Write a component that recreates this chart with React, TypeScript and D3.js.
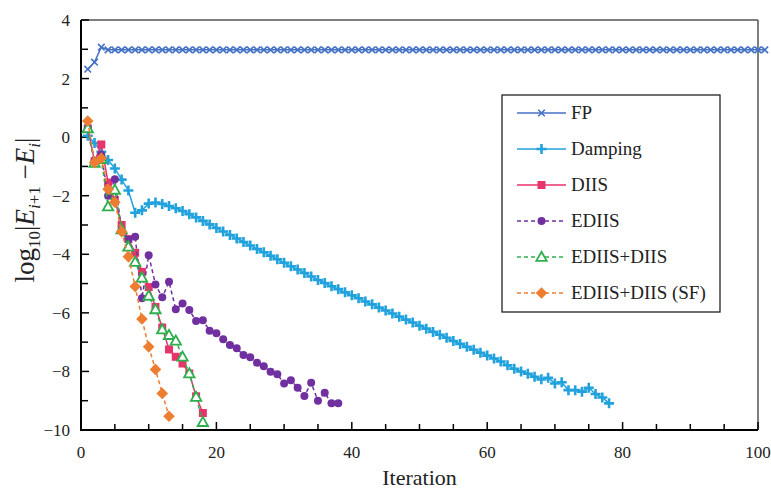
import React from "react";
import * as d3 from "d3";

// ---- data (iteration = index + 1) ----
const fpValues = [2.32, 2.56, 3.07,
  2.98, 2.98, 2.98, 2.98, 2.98, 2.98, 2.98, 2.98, 2.98, 2.98, 2.98, 2.98, 2.98, 2.98, 2.98, 2.98, 2.98,
  2.98, 2.98, 2.98, 2.98, 2.98, 2.98, 2.98, 2.98, 2.98, 2.98, 2.98, 2.98, 2.98, 2.98, 2.98, 2.98, 2.98,
  2.98, 2.98, 2.98, 2.98, 2.98, 2.98, 2.98, 2.98, 2.98, 2.98, 2.98, 2.98, 2.98, 2.98, 2.98, 2.98, 2.98,
  2.98, 2.98, 2.98, 2.98, 2.98, 2.98, 2.98, 2.98, 2.98, 2.98, 2.98, 2.98, 2.98, 2.98, 2.98, 2.98, 2.98,
  2.98, 2.98, 2.98, 2.98, 2.98, 2.98, 2.98, 2.98, 2.98, 2.98, 2.98, 2.98, 2.98, 2.98, 2.98, 2.98, 2.98,
  2.98, 2.98, 2.98, 2.98, 2.98, 2.98, 2.98, 2.98, 2.98, 2.98, 2.98, 2.98, 2.98];

const dampingValues = [0.05, -0.2, -0.5, -0.78, -1.07, -1.45, -1.82, -2.58, -2.5, -2.27,
  -2.23, -2.28, -2.35, -2.43, -2.52, -2.63, -2.74, -2.86, -2.98, -3.1,
  -3.22, -3.34, -3.46, -3.58, -3.7, -3.82, -3.93, -4.05, -4.17, -4.29,
  -4.41, -4.52, -4.64, -4.76, -4.88, -4.98, -5.09, -5.19, -5.3, -5.4,
  -5.5, -5.61, -5.71, -5.82, -5.92, -6.02, -6.13, -6.23, -6.33, -6.44,
  -6.54, -6.65, -6.75, -6.85, -6.96, -7.06, -7.16, -7.26, -7.36, -7.46,
  -7.56, -7.66, -7.79, -7.91, -8.0, -8.08, -8.18, -8.27, -8.22, -8.41,
  -8.37, -8.64, -8.64, -8.69, -8.56, -8.77, -8.89, -9.09];

const diisValues = [0.3, -0.82, -0.25, -1.55, -2.15, -3.0, -3.48, -3.95, -4.6, -5.12,
  -5.8, -6.5, -7.25, -7.5, -7.73, -8.07, -8.85, -9.42];

const ediisValues = [0.3, -0.85, -0.6, -2.0, -1.44, -3.2, -3.5, -3.4, -5.5, -4.03,
  -5.03, -5.47, -4.94, -5.88, -5.68, -5.9, -6.28, -6.25, -6.61, -6.7,
  -6.9, -7.1, -7.21, -7.44, -7.52, -7.7, -7.82, -8.01, -8.1, -8.41,
  -8.3, -8.56, -8.84, -8.39, -9.0, -8.73, -9.09, -9.09];

const ediisDiisValues = [0.3, -0.88, -0.75, -2.37, -1.8, -3.15, -3.74, -4.26, -4.8, -5.42,
  -5.88, -6.57, -6.76, -6.95, -7.5, -8.07, -8.87, -9.73];

const sfValues = [0.55, -0.87, -0.72, -1.78, -2.22, -3.23, -4.08, -5.1, -6.21, -7.16,
  -7.93, -8.75, -9.53];

const seriesNames = ["FP", "Damping", "DIIS", "EDIIS", "EDIIS+DIIS", "EDIIS+DIIS (SF)"];
const seriesColors = ["#4472C4", "#22A2DC", "#E8336B", "#7030A0", "#2EAE4E", "#ED7D31"];
const seriesValues = [fpValues, dampingValues, diisValues, ediisValues, ediisDiisValues, sfValues];
const seriesDashed = [false, false, false, true, true, true];
const seriesMarkers = ["x", "plus", "square", "circle", "triangle", "diamond"];

const xTicks = [0, 20, 40, 60, 80, 100];
const yTicks = [4, 2, 0, -2, -4, -6, -8, -10];

const W = 771, H = 490;
const FONT = "Liberation Serif, Times New Roman, Times, DejaVu Serif, serif";
const txt = { fontFamily: FONT } as React.CSSProperties;

function Marker({ type, x, y, color }: { type: string; x: number; y: number; color: string }) {
  switch (type) {
    case "x": {
      const s = 3.3;
      return <path d={`M${x - s},${y - s}L${x + s},${y + s}M${x - s},${y + s}L${x + s},${y - s}`} stroke={color} strokeWidth={1.6} fill="none" />;
    }
    case "plus": {
      const s = 5;
      return <path d={`M${x - s},${y}L${x + s},${y}M${x},${y - s}L${x},${y + s}`} stroke={color} strokeWidth={2.6} fill="none" />;
    }
    case "square":
      return <rect x={x - 4} y={y - 4} width={8} height={8} fill={color} />;
    case "circle":
      return <circle cx={x} cy={y} r={4} fill={color} />;
    case "triangle": {
      const s = 5.2;
      return <path d={`M${x},${y - s}L${x + s},${y + s * 0.75}L${x - s},${y + s * 0.75}Z`} stroke={color} strokeWidth={1.8} fill="white" />;
    }
    case "diamond": {
      const s = 5.8;
      return <path d={`M${x},${y - s}L${x + s},${y}L${x},${y + s}L${x - s},${y}Z`} fill={color} />;
    }
  }
  return null;
}

export default function App() {
  const x = d3.scaleLinear().domain([0, 100]).range([81, 758]);
  const y = d3.scaleLinear().domain([-10, 4]).range([430, 20]);
  const line = d3.line<number>().x((_, i) => x(i + 1)).y((v) => y(v));

  const xMinor = d3.range(0, 101, 5);
  const yMinor = d3.range(-10, 5, 1);

  const legendX = 502, legendY = 95, legendW = 218, legendH = 217;
  const legendRow0 = 113, legendStep = 36;

  return (
    <svg width={W} height={H} style={{ position: "absolute", left: 0, top: 0, background: "white" }}>
      <rect x={0} y={0} width={W} height={H} fill="white" />
      {/* frame */}
      <line x1={x(0)} x2={x(100)} y1={y(4)} y2={y(4)} stroke="#555" strokeWidth={1.5} />
      <line x1={x(100)} x2={x(100)} y1={y(4)} y2={y(-10)} stroke="#555" strokeWidth={1.5} />
      {/* ticks */}
      {xMinor.map((t) => (
        <line key={"xm" + t} x1={x(t)} x2={x(t)} y1={y(-10)} y2={y(-10) - (t % 20 === 0 ? 8 : 6)} stroke="black" strokeWidth={1.5} />
      ))}
      {yMinor.map((t) => (
        <line key={"ym" + t} x1={x(0)} x2={x(0) + (t % 2 === 0 ? 8 : 7)} y1={y(t)} y2={y(t)} stroke="black" strokeWidth={1.5} />
      ))}
      {/* axes */}
      <line x1={x(0)} x2={x(0)} y1={y(4)} y2={y(-10) + 1} stroke="black" strokeWidth={2} />
      <line x1={x(0) - 1} x2={x(100)} y1={y(-10)} y2={y(-10)} stroke="black" strokeWidth={2} />
      {/* tick labels */}
      {xTicks.map((t) => (
        <text key={"xt" + t} x={x(t)} y={458} textAnchor="middle" fontSize={17} fill="#222" style={txt}>{t}</text>
      ))}
      {yTicks.map((t) => (
        <text key={"yt" + t} x={70} y={y(t) + 6} textAnchor="end" fontSize={17} fill="#222" style={txt}>{t < 0 ? "\u2212" + Math.abs(t) : t}</text>
      ))}
      {/* axis titles */}
      <text x={(x(0) + x(100)) / 2} y={485} textAnchor="middle" fontSize={22} fill="#222" style={txt}>Iteration</text>
      <text transform={`translate(34,${210}) rotate(-90)`} textAnchor="middle" fontSize={27} fill="#222" style={txt}>
        log<tspan fontSize={17} dy={6}>10</tspan>
        <tspan dy={-6}>|</tspan>
        <tspan fontStyle="italic">E</tspan>
        <tspan fontSize={17} fontStyle="italic" dy={6}>i</tspan>
        <tspan fontSize={17} dy={0}>+1</tspan>
        <tspan dy={-6}> {"\u2212"}</tspan>
        <tspan fontStyle="italic">E</tspan>
        <tspan fontSize={17} fontStyle="italic" dy={6}>i</tspan>
        <tspan dy={-6}>|</tspan>
      </text>
      {/* series */}
      {seriesValues.map((vals, si) => (
        <g key={"s" + si}>
          <path d={line(vals) || ""} fill="none" stroke={seriesColors[si]} strokeWidth={1.5} strokeDasharray={seriesDashed[si] ? "4,3" : undefined} />
          {vals.map((v, i) => (
            <Marker key={i} type={seriesMarkers[si]} x={x(i + 1)} y={y(v)} color={seriesColors[si]} />
          ))}
        </g>
      ))}
      {/* legend */}
      <rect x={legendX} y={legendY} width={legendW} height={legendH} fill="white" stroke="#222" strokeWidth={1.3} />
      {seriesNames.map((name, i) => {
        const ly = legendRow0 + i * legendStep;
        return (
          <g key={"l" + i}>
            <line x1={517} x2={566} y1={ly} y2={ly} stroke={seriesColors[i]} strokeWidth={1.5} strokeDasharray={seriesDashed[i] ? "4,3" : undefined} />
            <Marker type={seriesMarkers[i]} x={541.5} y={ly} color={seriesColors[i]} />
            <text x={571} y={ly + 6} fontSize={19} fill="#222" style={txt}>{name}</text>
          </g>
        );
      })}
    </svg>
  );
}
